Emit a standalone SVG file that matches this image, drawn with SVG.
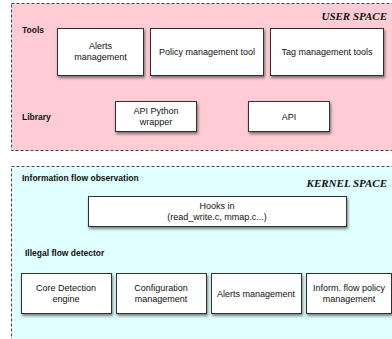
<svg xmlns="http://www.w3.org/2000/svg" width="392" height="339" viewBox="0 0 392 339">
<defs>
<filter id="sh" x="-10%" y="-10%" width="130%" height="140%">
<feGaussianBlur in="SourceAlpha" stdDeviation="1.5"/>
<feOffset dx="1" dy="2" result="b"/>
<feComponentTransfer><feFuncA type="linear" slope="0.5"/></feComponentTransfer>
<feMerge><feMergeNode/><feMergeNode in="SourceGraphic"/></feMerge>
</filter>
</defs>
<style>
.area{stroke:#444;stroke-width:1;stroke-dasharray:3,2}
.box{fill:#fff;stroke:#333;stroke-width:1;filter:url(#sh)}
.t{font-family:"Liberation Sans",Arial,sans-serif;font-size:9px;fill:#111;text-anchor:middle}
.h{font-family:"Liberation Sans",Arial,sans-serif;font-size:8.5px;font-weight:bold;fill:#111}
.sp{font-family:"Liberation Serif","Times New Roman",serif;font-size:11px;font-weight:bold;font-style:italic;fill:#111;text-anchor:end}
</style>
<rect width="392" height="339" fill="#fff"/>
<g id="user-space">
<rect class="area" x="11.5" y="3.5" width="390" height="147" fill="#ffccd5"/>
<text class="sp" x="387" y="20">USER SPACE</text>
<text class="h" x="22" y="33">Tools</text>
<text class="h" x="22" y="120">Library</text>
</g>
<g id="kernel-space">
<rect class="area" x="11.5" y="166.5" width="390" height="180" fill="#e0ffff"/>
<text class="sp" x="387" y="187">KERNEL SPACE</text>
<text class="h" x="22" y="181">Information flow observation</text>
<text class="h" x="25" y="256">Illegal flow detector</text>
</g>
<g id="alerts-tool">
<rect class="box" x="57.5" y="28.5" width="86" height="47"/>
<text class="t" x="100.5" y="49">Alerts</text>
<text class="t" x="100.5" y="60">management</text>
</g>
<g id="policy-tool">
<rect class="box" x="150.5" y="28.5" width="113" height="47"/>
<text class="t" x="207" y="55">Policy management tool</text>
</g>
<g id="tag-tools">
<rect class="box" x="270.5" y="28.5" width="113" height="47"/>
<text class="t" x="327" y="55">Tag management tools</text>
</g>
<g id="api-python">
<rect class="box" x="115.5" y="101.5" width="81" height="30"/>
<text class="t" x="156" y="114">API Python</text>
<text class="t" x="156" y="125">wrapper</text>
</g>
<g id="api">
<rect class="box" x="248.5" y="101.5" width="81" height="30"/>
<text class="t" x="289" y="120">API</text>
</g>
<g id="hooks">
<rect class="box" x="88.5" y="196.5" width="258" height="30"/>
<text class="t" x="217" y="209">Hooks in</text>
<text class="t" x="217" y="220">(read_write.c, mmap.c...)</text>
</g>
<g id="core-detection">
<rect class="box" x="21.5" y="273.5" width="90" height="40"/>
<text class="t" x="66" y="291">Core Detection</text>
<text class="t" x="66" y="302">engine</text>
</g>
<g id="config-mgmt">
<rect class="box" x="116.5" y="273.5" width="90" height="40"/>
<text class="t" x="161" y="291">Configuration</text>
<text class="t" x="161" y="302">management</text>
</g>
<g id="alerts-mgmt">
<rect class="box" x="211.5" y="273.5" width="90" height="40"/>
<text class="t" x="256" y="297">Alerts management</text>
</g>
<g id="policy-mgmt">
<rect class="box" x="306.5" y="273.5" width="85" height="40"/>
<text class="t" x="349" y="291">Inform. flow policy</text>
<text class="t" x="349" y="302">management</text>
</g>
<g id="connectors"/>
</svg>
